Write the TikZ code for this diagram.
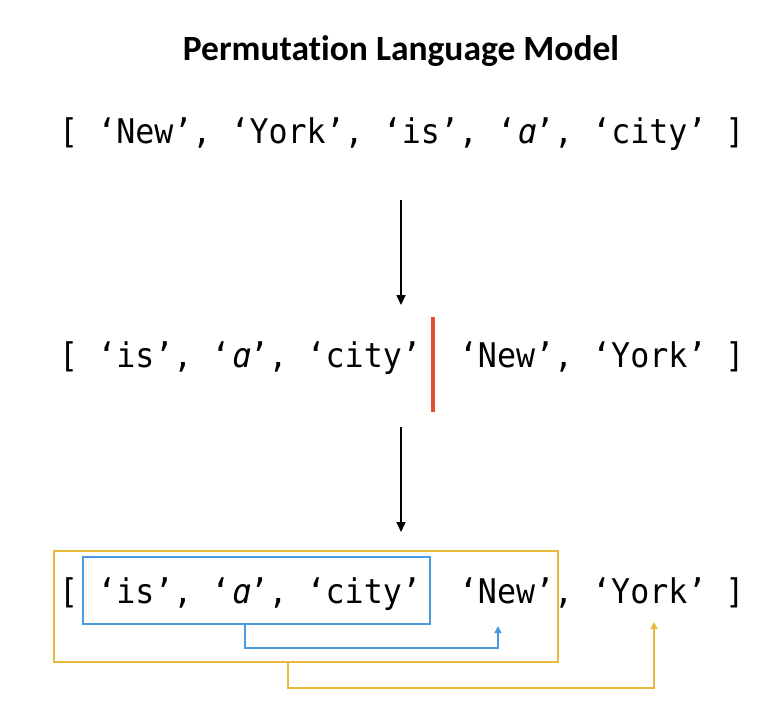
\documentclass[tikz,border=0pt]{standalone}
\usepackage{fontspec}
\usetikzlibrary{arrows.meta}
\newfontfamily\monofont[FakeStretch=0.93]{DejaVu Sans Mono}
\newfontfamily\monoslant[FakeStretch=0.93,FakeSlant=0.2]{DejaVu Sans Mono}
\newfontfamily\titlefont[Ligatures=NoCommon]{Carlito}
\definecolor{ylw}{HTML}{E8B93A}
\definecolor{blu}{HTML}{4A9BE0}
\definecolor{rd}{HTML}{E0502A}
\newcommand{\slanta}{{\monoslant ɑ}}
\newcommand{\cs}{\phantom{x}}
\tikzset{
  seq/.style={anchor=base west, inner sep=0pt, font=\monofont\fontsize{34}{40}\selectfont},
  flow/.style={line width=1.6pt, -{Triangle[length=10pt,width=9pt]}},
  box/.style={draw, line width=1.5pt, inner sep=0pt},
  link/.style={line width=1.5pt, -{Triangle[length=7pt,width=7pt]}}
}
\begin{document}
\begin{tikzpicture}[x=1pt,y=-1pt]
\useasboundingbox (0,0) rectangle (778,726);
\node[font=\titlefont\bfseries\fontsize{35.5}{40}\selectfont, anchor=base] (title) at (401,60) {Permutation Language Model};
\node[seq] (l1) at (59,143) {[\cs‘New’,\cs‘York’,\cs‘is’,\cs‘\slanta’,\cs‘city’\cs]};
\node[seq] (l2) at (59,367) {[\cs‘is’,\cs‘\slanta’,\cs‘city’\cs\cs‘New’,\cs‘York’\cs]};
\node[seq] (l3) at (59,603) {[\cs‘is’,\cs‘\slanta’,\cs‘city’\cs\cs‘New’,\cs‘York’\cs]};
\coordinate (a1s) at (401,200);
\coordinate (a1e) at (401,305);
\coordinate (a2s) at (401,427);
\coordinate (a2e) at (401,532);
\draw[flow] (a1s) -- (a1e);
\draw[flow] (a2s) -- (a2e);
\coordinate (rt) at (433,317);
\coordinate (rb) at (433,412);
\draw[rd, line width=4.8pt] (rt) -- (rb);
\node[box, draw=ylw, minimum width=504pt, minimum height=111pt] (ybox) at (306,606.5) {};
\node[box, draw=blu, minimum width=347pt, minimum height=67pt] (bbox) at (256.5,590.5) {};
\coordinate (newpt) at (498,626);
\coordinate (yorkpt) at (654,622);
\draw[link, blu] (bbox.south -| 245,0) -- (245,648) -| (newpt);
\draw[link, ylw] (ybox.south -| 288,0) -- (288,688) -| (yorkpt);
\end{tikzpicture}
\end{document}
